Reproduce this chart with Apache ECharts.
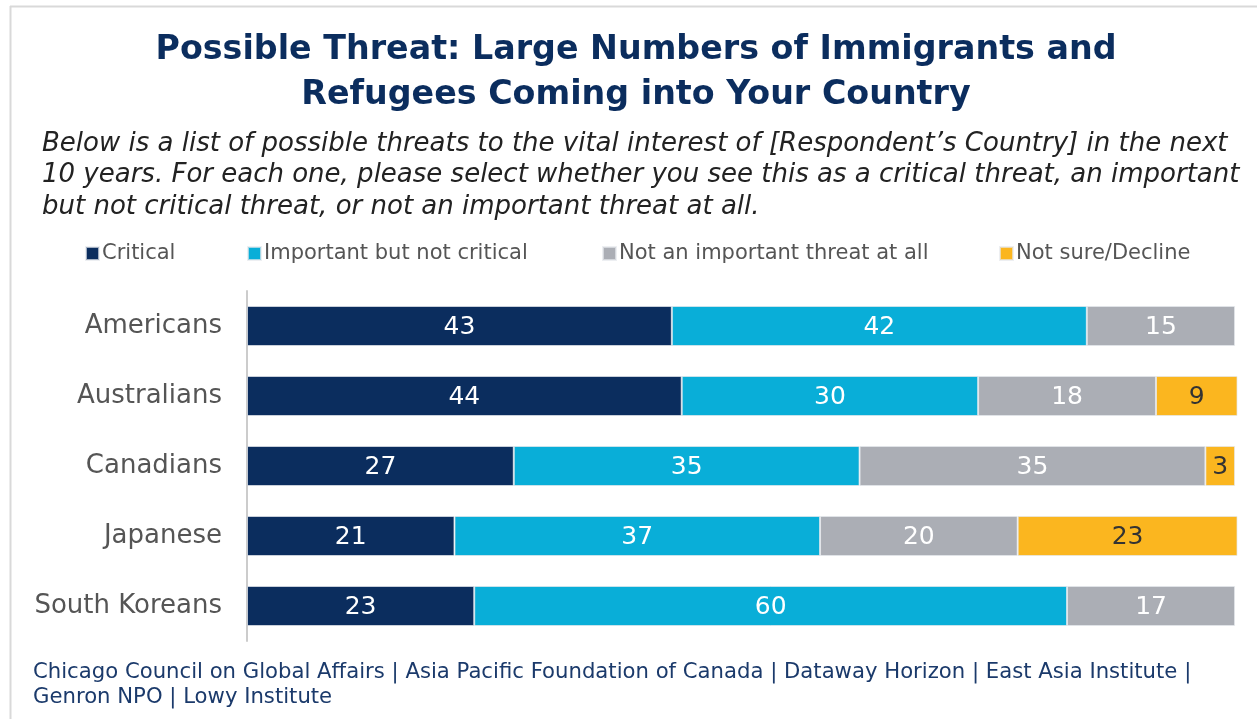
<!DOCTYPE html>
<html>
<head>
<meta charset="utf-8">
<script src="https://cdn.jsdelivr.net/npm/echarts@6/dist/echarts.min.js"></script>
<style>
  html, body { margin: 0; padding: 0; background: #fff; }
  #chart { width: 1257px; height: 719px; }
</style>
</head>
<body>
<div id="chart"></div>
<script>
// groups, top to bottom
var countries = ["Americans", "Australians", "Canadians", "Japanese", "South Koreans"];
var seriesNames = ["Critical", "Important but not critical", "Not an important threat at all", "Not sure/Decline"];
var critical = [43, 44, 27, 21, 23];
var important = [42, 30, 35, 37, 60];
var notImportant = [15, 18, 35, 20, 17];
var notSure = [null, 9, 3, 23, null];

var colors = ["#0b2d5e", "#09aed8", "#abaeb5", "#fbb61f"];
var labelColors = ["#fff", "#fff", "#fff", "#333"];
var values = [critical, important, notImportant, notSure];

var font = "'DejaVu Sans', 'Noto Sans', sans-serif";

var myChart = echarts.init(document.getElementById("chart"));

// one legend per item, since the gaps are uneven
var legendLeft = [85, 247, 602, 999];
var legends = seriesNames.map(function (name, i) {
  return {
    data: [name],
    left: legendLeft[i],
    top: 243,
    padding: 0,
    itemWidth: 13,
    itemHeight: 13,
    itemGap: 0,
    icon: "rect",
    textStyle: { color: "#555", fontSize: 21, fontFamily: font, padding: [0, 0, 0, -2] }
  };
});

var series = seriesNames.map(function (name, i) {
  return {
    name: name,
    type: "bar",
    stack: "total",
    barWidth: 40,
    data: values[i],
    itemStyle: {
      color: colors[i],
      borderColor: "rgba(230, 232, 236, 0.7)",
      borderWidth: 1
    },
    label: {
      show: true,
      position: "inside",
      offset: [0, 1],
      color: labelColors[i],
      fontSize: 25,
      fontFamily: font
    },
    emphasis: { disabled: true }
  };
});

var option = {
  animation: false,
  title: [
    {
      text: "Possible Threat: Large Numbers of Immigrants and\nRefugees Coming into Your Country",
      left: 636,
      textAlign: "center",
      top: 28,
      padding: 0,
      textStyle: { color: "#0b2d5e", fontSize: 33.3, fontWeight: "bold", fontFamily: font, lineHeight: 45 }
    },
    {
      text: "Below is a list of possible threats to the vital interest of [Respondent\u2019s Country] in the next\n10 years. For each one, please select whether you see this as a critical threat, an important\nbut not critical threat, or not an important threat at all.",
      left: 42,
      top: 128,
      padding: 0,
      textStyle: { color: "#222", fontSize: 26, fontStyle: "italic", fontWeight: "normal", fontFamily: font, lineHeight: 31.5 }
    },
    {
      text: "Chicago Council on Global Affairs | Asia Pacific Foundation of Canada | Dataway Horizon | East Asia Institute |\nGenron NPO | Lowy Institute",
      left: 33,
      top: 660,
      padding: 0,
      textStyle: { color: "#1b3a6b", fontSize: 21.2, fontWeight: "normal", fontFamily: font, lineHeight: 25 }
    }
  ],
  legend: legends,
  graphic: [
    { type: "line", shape: { x1: 10, y1: 6.5, x2: 1257, y2: 6.5 }, style: { stroke: "#d9d9d9", lineWidth: 2 } },
    { type: "line", shape: { x1: 10.5, y1: 6, x2: 10.5, y2: 719 }, style: { stroke: "#d9d9d9", lineWidth: 2 } }
  ],
  grid: { left: 247, top: 291, width: 990, height: 350 },
  xAxis: {
    type: "value",
    min: 0,
    max: 100.2,
    show: false
  },
  yAxis: {
    type: "category",
    inverse: true,
    data: countries,
    axisTick: { show: false },
    axisLine: { show: true, lineStyle: { color: "#cccccc", width: 2 } },
    axisLabel: { color: "#555", fontSize: 26, fontFamily: font, margin: 25, padding: [3, 0, 0, 0] }
  },
  series: series
};

myChart.setOption(option);
</script>
</body>
</html>
